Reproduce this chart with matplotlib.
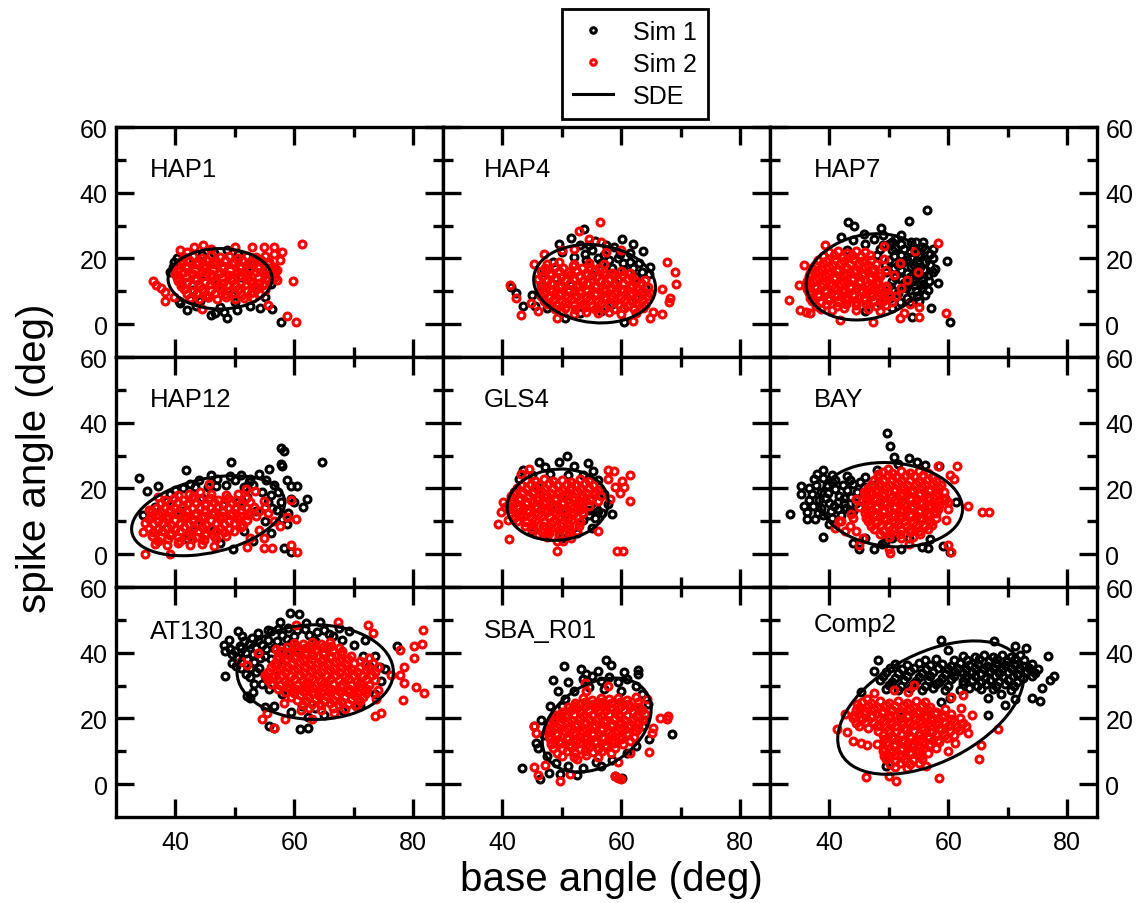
import matplotlib
matplotlib.use("Agg")
import matplotlib.pyplot as plt
import numpy as np
from matplotlib.patches import Ellipse

plt.rcParams["font.family"] = ["Liberation Sans", "DejaVu Sans"]

# ---------------------------------------------------------------------------
# Data (base angle, spike angle) in degrees.
# *_B lists hold the extra points that fill the dense cores of each cloud.
# ---------------------------------------------------------------------------

PANELS = ["HAP1", "HAP4", "HAP7", "HAP12", "GLS4", "BAY", "AT130", "SBA_R01", "Comp2"]

HAP1_SIM1 = [(39.1,15.8),(40.3,20.0),(40.6,6.9),(40.8,6.4),(41.9,4.3),(44.2,6.9),(45.9,2.8),(46.7,3.3),(48.6,2.0),(48.1,3.8),(50.3,4.3),(52.6,5.4),(54.2,4.8),(56.3,4.6),(57.7,0.6),(48.6,22.5),(39.5,17.5),(42.0,19.5),(44.5,21.0),(46.5,21.6),(50.5,21.2),(53.0,20.1),(55.5,17.2),(56.0,12.1),(55.0,8.2),(43.0,10.3),(45.0,15.1),(47.0,12.2),(49.5,9.1),(51.0,14.3),(53.0,11.2),(42.5,7.6),(45.5,8.4),(50.0,6.6),(52.0,17.4),(48.0,17.1),(41.0,12.6),(43.5,5.6),(47.5,5.1),(39.8,18.8)]
HAP1_SIM2 = [(61.3,24.5),(58.8,2.6),(60.2,0.8),(59.7,13.2),(36.3,13.2),(36.8,12.0),(37.5,11.0),(38.3,9.9),(38.3,7.1),(39.7,8.4),(40.8,22.5),(43.1,23.5),(44.7,24.2),(52.9,23.5),(54.9,23.4),(56.6,23.6),(58.0,22.0),(57.1,16.5),(57.1,13.5),(55.5,5.8),(44.5,4.6),(57.5,19.5),(56.5,21.5),(46.0,23.0),(42.0,22.1),(50.0,23.4),
             (41.5,20.3),(43.0,20.8),(44.5,20.2),(46.0,20.9),(47.5,20.4),(49.0,20.7),(50.5,20.1),(52.0,20.8),(53.5,20.3),(55.0,20.6),
             (40.5,18.1),(42.0,17.7),(43.5,18.4),(45.0,17.9),(46.5,18.3),(48.0,17.6),(49.5,18.2),(51.0,17.8),(52.5,18.5),(54.0,17.7),(55.5,18.2),(56.5,17.5),
             (40.0,15.4),(41.5,15.9),(43.0,15.2),(44.5,15.8),(46.0,15.3),(47.5,15.7),(49.0,15.1),(50.5,15.9),(52.0,15.4),(53.5,15.8),(55.0,15.2),(56.5,15.6),
             (40.5,13.1),(42.0,12.7),(43.5,13.3),(45.0,12.8),(46.5,13.2),(48.0,12.6),(49.5,13.4),(51.0,12.9),(52.5,13.1),(54.0,12.6),(55.5,13.3),
             (41.5,10.6),(43.0,10.2),(44.5,10.8),(46.0,10.3),(47.5,10.7),(49.0,10.1),(50.5,10.6),(52.0,10.2),(53.5,10.8),(55.0,10.4),
             (42.5,8.1),(44.0,7.7),(45.5,8.3),(47.0,7.8),(48.5,8.2),(50.0,7.6),(51.5,8.1),(53.0,7.9)]
HAP1_SIM2_B = [(41.0,19.1),(42.3,19.5),(43.8,19.0),(45.2,19.6),(46.8,19.2),(48.3,19.5),(49.8,19.0),(51.2,19.6),(52.8,19.1),(54.3,19.4),(55.8,19.0),
               (40.3,16.6),(41.8,17.0),(43.2,16.5),(44.8,17.1),(46.3,16.7),(47.8,17.0),(49.2,16.5),(50.8,17.1),(52.3,16.6),(53.8,17.0),(55.2,16.5),(56.8,16.9),
               (40.2,14.1),(41.8,14.5),(43.3,14.0),(44.7,14.6),(46.2,14.2),(47.8,14.5),(49.3,14.0),(50.7,14.6),(52.2,14.1),(53.8,14.5),(55.3,14.0),(56.7,14.4),
               (41.0,11.6),(42.7,12.0),(44.2,11.5),(45.8,12.1),(47.3,11.7),(48.7,12.0),(50.2,11.5),(51.8,12.1),(53.3,11.6),(54.8,12.0),
               (42.0,9.1),(43.7,9.5),(45.2,9.0),(46.7,9.6),(48.3,9.2),(49.8,9.5),(51.2,9.0),(52.7,9.5),(54.2,9.1)]

HAP4_SIM1 = [(53.7,29.1),(51.6,26.3),(60.1,25.9),(58.7,23.5),(63.6,22.3),(61.5,21.8),(64.8,17.5),(64.6,15.3),(41.5,11.4),(42.2,9.5),(43.5,5.4),(45.4,5.4),(45.0,8.9),(50.5,2.0),(60.4,0.6),(55.6,25.3),(53.0,24.0),(55.0,22.5),(57.0,21.0),(59.5,20.0),(61.5,19.0),(63.0,18.5),(56.5,18.5),(58.5,17.0),(60.5,16.5),(62.5,14.5),(52.0,20.5),(50.0,22.0),(48.5,19.0),(54.0,19.5),(47.0,16.0),(49.0,14.0),(51.5,12.0),(47.5,5.0),(53.0,3.5),(56.5,4.0),(58.5,6.0),(62.5,8.0),(64.0,11.0),(49.5,24.5),(57.5,24.0),(62.0,24.5),(46.5,12.0),(55.0,15.0),(59.0,12.5),
             (53.8,21.3),(56.0,20.0),(58.0,19.5),(60.2,18.5),(62.0,17.0),(63.5,16.0),(59.8,21.5),(54.5,24.0)]
HAP4_SIM2 = [(56.4,31.1),(52.8,28.3),(41.2,11.9),(42.3,7.9),(43.2,2.8),(45.3,18.2),(47.0,21.5),(67.6,19.0),(69.0,16.0),(69.2,12.2),(66.9,10.7),(68.2,7.9),(68.0,6.8),(66.9,3.0),(49.1,1.8),(61.9,1.1),(64.8,1.8),(65.3,3.6),(56.6,25.1),(54.5,26.0),(50.0,22.5),(52.0,23.0),(46.0,4.0),(44.8,6.5),(57.5,22.0),(60.0,22.5),
             (47.5,18.4),(49.5,18.9),(52.0,18.2),(54.5,18.7),(57.0,18.3),
             (46.5,16.1),(48.0,15.7),(49.5,16.3),(51.0,15.8),(52.5,16.2),(54.0,15.6),(55.5,16.4),(57.0,15.9),(58.5,15.5),(60.0,16.2),(61.5,15.7),
             (46.0,13.6),(47.5,13.2),(49.0,13.8),(50.5,13.3),(52.0,13.7),(53.5,13.1),(55.0,13.6),(56.5,13.2),(58.0,13.8),(59.5,13.4),(61.0,13.7),(62.5,13.1),(64.0,13.5),
             (46.5,11.1),(48.0,10.7),(49.5,11.3),(51.0,10.8),(52.5,11.2),(54.0,10.6),(55.5,11.4),(57.0,10.9),(58.5,11.1),(60.0,10.6),(61.5,11.3),(63.0,10.8),(64.5,11.2),
             (46.5,8.6),(48.0,8.2),(49.5,8.8),(51.0,8.3),(52.5,8.7),(54.0,8.1),(55.5,8.9),(57.0,8.4),(58.5,8.6),(60.0,8.1),(61.5,8.8),(63.0,8.3),(64.5,8.7),
             (47.5,6.1),(49.0,5.7),(50.5,6.3),(52.0,5.8),(53.5,6.2),(55.0,5.6),(56.5,6.4),(58.0,5.9),(59.5,6.1),(61.0,5.6),(62.5,6.3),(64.0,5.8),
             (50.0,3.6),(52.0,3.2),(54.0,3.8),(56.0,3.3),(58.0,3.7),(60.0,3.1),(62.5,3.5)]
HAP4_SIM2_B = [(47.2,17.1),(48.8,17.5),(50.2,17.0),(51.8,17.6),(53.3,17.2),(54.8,17.5),(56.2,17.0),
               (46.7,14.6),(48.2,15.0),(49.8,14.5),(51.3,15.1),(52.8,14.7),(54.2,15.0),(55.8,14.5),(57.3,15.1),(58.8,14.6),(60.2,15.0),(61.8,14.5),
               (46.7,12.1),(48.2,12.5),(49.8,12.0),(51.3,12.6),(52.7,12.2),(54.3,12.5),(55.8,12.0),(57.2,12.6),(58.7,12.1),(60.3,12.5),(61.8,12.0),(63.3,12.4),
               (46.8,9.6),(48.3,10.0),(49.8,9.5),(51.2,10.1),(52.8,9.7),(54.3,10.0),(55.8,9.5),(57.3,10.1),(58.7,9.6),(60.2,10.0),(61.8,9.5),(63.3,9.9),(64.8,9.6),
               (47.0,7.1),(48.5,7.5),(50.0,7.0),(51.5,7.6),(53.0,7.2),(54.5,7.5),(56.0,7.0),(57.5,7.6),(59.0,7.1),(60.5,7.5),(62.0,7.0),(63.5,7.4),
               (48.8,4.6),(50.5,5.0),(52.2,4.5),(53.8,5.1),(55.5,4.7),(57.2,5.0),(58.8,4.5),(60.5,5.0),(62.2,4.6),(63.7,4.9)]

HAP7_SIM1 = [(56.4,34.6),(43.2,31.1),(44.2,29.9),(48.6,29.3),(53.4,31.3),(41.9,26.6),(45.8,27.5),(55.8,25.1),(57.0,21.2),(59.8,19.2),(57.4,15.8),(58.3,12.4),(57.1,4.8),(53.9,2.1),(60.2,0.6),(52.0,27.1),(53.7,25.1),(54.3,18.0),(53.0,15.5),(49.0,24.0),(50.5,22.5),(52.0,24.5),(53.5,22.0),(55.0,21.5),(56.0,19.0),(50.0,19.5),(51.5,18.0),(53.0,19.5),(54.5,16.0),(56.0,16.5),(49.5,16.0),(51.0,14.5),(52.5,12.5),(54.0,13.0),(55.5,13.5),(50.0,11.5),(51.5,9.5),(53.0,8.0),(54.5,10.0),(48.0,21.0),(47.5,26.0),(46.0,24.5),(49.0,27.0),(51.0,26.0),(54.5,25.0),(56.0,23.0),(57.5,23.0),(56.5,10.5),(55.0,7.0),(48.5,6.5),(46.0,4.0),(50.5,5.0),(44.0,25.5),(43.0,22.5),(52.0,21.0),(55.0,18.5),(57.0,18.0),(53.5,10.5),(52.0,16.5),(55.5,11.0),(50.5,25.0),(55.5,23.5)]
HAP7_SIM1_B = [(48.5,22.8),(50.0,24.3),(51.0,23.3),(52.5,22.8),(54.0,23.5),(55.3,20.3),(53.8,20.5),(52.3,19.0),(50.8,20.8),(49.3,18.0),(50.8,17.0),(53.8,17.3),(55.3,17.5),(56.5,15.0),(55.0,15.0),(53.5,14.3),(52.0,13.8),(50.5,13.0),(51.3,11.8),(52.8,11.0),(54.3,11.8),(55.8,12.3),(56.8,13.0),(50.2,8.0),(51.8,6.8),(53.5,6.8),(54.8,8.5),(56.0,9.0),(57.5,20.0),(57.8,16.8)]
HAP7_SIM2 = [(33.2,7.4),(35.0,4.3),(36.0,3.6),(36.8,3.4),(35.8,18.0),(34.8,11.9),(39.3,24.2),(41.8,1.3),(47.4,0.6),(51.9,1.8),(55.1,2.1),(55.1,5.3),(58.2,24.8),(59.6,3.3),(54.9,15.8),(54.4,22.2),(49.2,23.8),(49.2,19.8),(49.5,16.5),(50.9,15.0),(51.8,18.5),(52.1,11.0),(51.2,8.5),(53.0,13.5),(53.5,6.0),(52.5,3.5),
             (40.0,22.1),(41.5,22.4),(43.0,21.8),(44.5,22.3),(46.0,21.9),
             (38.0,19.6),(39.5,19.2),(41.0,19.8),(42.5,19.3),(44.0,19.7),(45.5,19.1),(47.0,19.6),
             (37.0,17.1),(38.5,16.7),(40.0,17.3),(41.5,16.8),(43.0,17.2),(44.5,16.6),(46.0,17.4),(47.5,16.9),
             (36.5,14.6),(38.0,14.2),(39.5,14.8),(41.0,14.3),(42.5,14.7),(44.0,14.1),(45.5,14.9),(47.0,14.4),(48.5,14.6),
             (36.0,12.1),(37.5,11.7),(39.0,12.3),(40.5,11.8),(42.0,12.2),(43.5,11.6),(45.0,12.4),(46.5,11.9),(48.0,12.1),(49.5,11.6),
             (36.5,9.6),(38.0,9.2),(39.5,9.8),(41.0,9.3),(42.5,9.7),(44.0,9.1),(45.5,9.9),(47.0,9.4),(48.5,9.6),(50.0,9.1),
             (37.0,7.1),(38.5,6.7),(40.0,7.3),(41.5,6.8),(43.0,7.2),(44.5,6.6),(46.0,7.4),(47.5,6.9),(49.0,7.1),(50.5,6.6),
             (38.5,4.6),(40.5,4.2),(42.5,4.8),(44.5,4.3),(46.5,4.7),(48.5,4.1)]
HAP7_SIM2_B = [(39.0,20.6),(40.7,21.0),(42.2,20.5),(43.8,21.1),(45.3,20.7),(46.8,21.0),
               (37.5,18.1),(39.0,18.5),(40.5,18.0),(42.0,18.6),(43.5,18.2),(45.0,18.5),(46.5,18.0),(47.8,18.4),
               (36.8,15.6),(38.2,16.0),(39.7,15.5),(41.2,16.1),(42.8,15.7),(44.2,16.0),(45.8,15.5),(47.2,16.1),(48.5,15.7),
               (36.2,13.1),(37.8,13.5),(39.2,13.0),(40.8,13.6),(42.2,13.2),(43.8,13.5),(45.2,13.0),(46.8,13.6),(48.2,13.1),
               (36.2,10.6),(37.7,11.0),(39.2,10.5),(40.8,11.1),(42.3,10.7),(43.7,11.0),(45.2,10.5),(46.8,11.1),(48.3,10.6),(49.7,11.0),
               (36.8,8.1),(38.2,8.5),(39.7,8.0),(41.2,8.6),(42.8,8.2),(44.2,8.5),(45.8,8.0),(47.2,8.6),(48.8,8.1),(50.2,8.5),
               (37.8,5.6),(39.5,6.0),(41.2,5.5),(42.8,6.1),(44.5,5.7),(46.2,6.0),(47.8,5.5),(49.5,5.9)]

HAP12_SIM1 = [(64.7,28.1),(57.7,32.3),(58.2,31.3),(57.7,27.5),(58.0,26.7),(49.4,27.9),(41.8,25.7),(33.8,23.3),(35.2,19.3),(37.0,20.6),(46.0,24.0),(54.0,24.4),(55.7,25.9),(58.8,22.7),(60.5,20.8),(59.4,20.8),(62.2,16.8),(61.4,14.3),(59.4,16.8),(58.8,9.2),(58.2,1.9),(59.5,0.7),(49.7,1.7),(34.6,11.8),(38.6,16.3),(40.0,19.5),(42.5,21.5),(44.0,22.5),(45.5,20.5),(47.0,23.0),(48.5,21.0),(50.0,22.5),(51.5,20.5),(53.0,21.0),(52.0,17.5),(54.5,19.0),(55.5,16.0),(56.5,21.0),(57.0,13.5),(50.5,16.0),(48.0,15.0),(53.5,13.0),(55.0,10.0),(51.5,7.0),(46.5,7.5),(43.5,9.0),(38.5,8.0),(41.0,13.0),(36.5,14.5),(44.5,17.0),(42.0,4.5),(47.5,3.5),(53.0,4.0),(56.0,6.5),(60.0,16.0),(59.0,12.5),(51.0,24.0),(52.5,23.0),
              (39.0,18.3),(41.2,20.0),(43.2,20.3),(46.8,20.8),(49.2,23.8),(52.3,22.0),(55.2,22.5),(57.3,19.0),(56.0,18.0),(57.8,16.0),(56.3,14.0),(58.0,10.8)]
HAP12_SIM2 = [(34.9,0.2),(39.1,0.2),(45.6,21.4),(51.8,19.8),(53.3,19.3),(54.9,16.3),(59.4,16.5),(59.5,2.7),(60.5,0.7),(60.2,10.8),(58.8,11.2),(52.1,2.2),(54.9,2.0),(56.3,2.0),(54.9,4.8),(34.6,6.7),(34.9,9.4),(35.6,13.3),(37.1,17.3),(42.2,18.3),(44.2,18.8),(55.5,12.5),(56.5,10.0),(57.5,8.5),(54.0,7.5),(52.5,5.0),(55.0,14.5),
              (40.5,18.1),(43.0,17.8),(46.0,18.3),(48.5,17.9),(50.5,18.2),
              (37.5,15.6),(39.0,15.2),(40.5,15.8),(42.0,15.3),(43.5,15.7),(45.0,15.1),(46.5,15.9),(48.0,15.4),(49.5,15.6),(51.0,15.1),(52.5,15.8),
              (36.0,13.1),(37.5,12.7),(39.0,13.3),(40.5,12.8),(42.0,13.2),(43.5,12.6),(45.0,13.4),(46.5,12.9),(48.0,13.1),(49.5,12.6),(51.0,13.3),(52.5,12.8),(54.0,13.2),
              (35.5,10.6),(37.0,10.2),(38.5,10.8),(40.0,10.3),(41.5,10.7),(43.0,10.1),(44.5,10.9),(46.0,10.4),(47.5,10.6),(49.0,10.1),(50.5,10.8),(52.0,10.3),
              (35.5,8.1),(37.0,7.7),(38.5,8.3),(40.0,7.8),(41.5,8.2),(43.0,7.6),(44.5,8.4),(46.0,7.9),(47.5,8.1),(49.0,7.6),(51.0,8.3),
              (36.0,5.6),(37.5,5.2),(39.0,5.8),(40.5,5.3),(42.0,5.7),(43.5,5.1),(45.0,5.9),(46.5,5.4),(48.5,5.6),
              (36.5,3.1),(38.5,2.7),(40.5,3.3),(42.5,2.8),(44.5,3.2),(46.5,2.6)]
HAP12_SIM2_B = [(38.2,16.6),(39.8,17.0),(41.2,16.5),(42.8,17.1),(44.2,16.7),(45.8,17.0),(47.2,16.5),(48.8,17.1),(50.2,16.6),(51.8,17.0),
                (36.8,14.1),(38.2,14.5),(39.8,14.0),(41.2,14.6),(42.8,14.2),(44.2,14.5),(45.8,14.0),(47.2,14.6),(48.8,14.1),(50.2,14.5),(51.8,14.0),(53.2,14.4),
                (35.8,11.6),(37.2,12.0),(38.8,11.5),(40.2,12.1),(41.8,11.7),(43.2,12.0),(44.8,11.5),(46.2,12.1),(47.8,11.6),(49.2,12.0),(50.8,11.5),(52.2,11.9),(53.5,11.6),
                (36.2,9.1),(37.8,9.5),(39.2,9.0),(40.8,9.6),(42.2,9.2),(43.8,9.5),(45.2,9.0),(46.8,9.6),(48.2,9.1),(49.8,9.5),(51.3,9.0),
                (36.2,6.6),(37.8,7.0),(39.2,6.5),(40.8,7.1),(42.2,6.7),(43.8,7.0),(45.2,6.5),(46.8,7.1),(48.2,6.6),(49.8,7.0),
                (37.0,4.1),(38.8,4.5),(40.8,4.0),(42.8,4.6),(44.8,4.2),(46.8,4.5)]

GLS4_SIM1 = [(50.9,29.8),(46.1,27.9),(49.5,27.9),(52.1,26.9),(54.4,27.7),(55.3,25.4),(43.5,25.7),(47.2,26.5),(57.0,18.3),(57.8,15.3),(58.5,12.3),(42.7,22.9),(44.9,7.2),(56.8,12.5),(54.6,13.5),(55.8,14.0),(45.0,24.0),(48.0,24.5),(51.0,24.0),(53.5,24.0),(56.0,22.5),(55.5,19.0),(54.5,12.0),(55.5,11.0),(56.0,13.0),(53.5,10.5),(42.0,19.0),(43.0,12.0),(45.0,8.5),(47.5,6.0),(50.0,5.0),(52.5,6.5),(55.0,8.0),(48.0,15.0),(51.0,18.0),(46.0,20.0),(50.5,12.0),(53.0,16.0)]
GLS4_SIM2 = [(57.7,25.7),(58.8,25.2),(61.5,24.1),(60.1,22.4),(60.5,20.3),(59.0,20.3),(59.8,18.6),(61.5,16.3),(57.8,23.0),(58.1,16.8),(39.3,9.2),(41.1,4.5),(40.1,15.8),(39.8,12.8),(49.1,1.0),(59.3,1.0),(60.2,1.0),(49.1,3.9),(50.2,3.9),(56.1,7.2),(43.2,24.4),(44.5,26.0),(40.5,14.3),(41.0,10.5),
             (44.0,22.6),(45.5,22.2),(47.0,22.8),(48.5,22.3),(50.0,22.7),(51.5,22.1),(53.0,22.9),(54.5,22.4),
             (42.5,20.1),(44.0,19.7),(45.5,20.3),(47.0,19.8),(48.5,20.2),(50.0,19.6),(51.5,20.4),(53.0,19.9),(54.5,20.1),(56.0,19.6),
             (41.5,17.6),(43.0,17.2),(44.5,17.8),(46.0,17.3),(47.5,17.7),(49.0,17.1),(50.5,17.9),(52.0,17.4),(53.5,17.6),(55.0,17.1),(56.5,17.8),
             (41.0,15.1),(42.5,14.7),(44.0,15.3),(45.5,14.8),(47.0,15.2),(48.5,14.6),(50.0,15.4),(51.5,14.9),(53.0,15.1),(54.5,14.6),
             (41.5,12.6),(43.0,12.2),(44.5,12.8),(46.0,12.3),(47.5,12.7),(49.0,12.1),(50.5,12.9),(52.0,12.4),(53.5,12.6),
             (42.5,10.1),(44.0,9.7),(45.5,10.3),(47.0,9.8),(48.5,10.2),(50.0,9.6),(51.5,10.4),(53.0,9.9),
             (45.0,7.6),(46.5,7.2),(48.0,7.8),(49.5,7.3),(51.0,7.7),(52.5,7.1),
             (47.5,5.1),(49.5,5.4),(51.5,4.9)]
GLS4_SIM2_B = [(43.2,21.1),(44.8,21.5),(46.2,21.0),(47.8,21.6),(49.2,21.2),(50.8,21.5),(52.2,21.0),(53.8,21.6),(55.2,21.1),
               (42.0,18.6),(43.5,19.0),(45.0,18.5),(46.5,19.1),(48.0,18.7),(49.5,19.0),(51.0,18.5),(52.5,19.1),(54.0,18.6),(55.5,19.0),
               (41.2,16.1),(42.8,16.5),(44.2,16.0),(45.8,16.6),(47.2,16.2),(48.8,16.5),(50.2,16.0),(51.8,16.6),(53.2,16.1),(54.8,16.5),(56.0,16.1),
               (41.2,13.6),(42.8,14.0),(44.2,13.5),(45.8,14.1),(47.2,13.7),(48.8,14.0),(50.2,13.5),(51.8,14.1),(53.2,13.6),
               (42.0,11.1),(43.5,11.5),(45.0,11.0),(46.5,11.6),(48.0,11.2),(49.5,11.5),(51.0,11.0),(52.5,11.6),
               (43.8,8.6),(45.2,9.0),(46.8,8.5),(48.2,9.1),(49.8,8.7),(51.2,9.0),(52.8,8.5),
               (46.0,6.1),(47.8,6.5),(49.5,6.0),(51.2,6.4)]

BAY_SIM1 = [(49.6,37.0),(50.2,33.0),(50.9,29.5),(53.4,29.3),(33.3,12.3),(35.3,20.7),(35.3,18.3),(35.8,14.8),(36.2,10.8),(37.5,10.8),(37.4,22.9),(37.9,24.4),(38.9,25.7),(36.2,12.8),(36.5,16.4),(37.0,18.4),(39.0,5.2),(39.6,20.9),(40.4,22.0),(41.0,22.5),(43.0,23.9),(42.2,20.9),(41.6,17.8),(40.8,14.8),(41.4,13.7),(43.6,17.3),(44.7,18.8),(39.9,9.2),(45.8,20.5),(45.0,1.7),(47.5,1.5),(48.9,3.1),(52.0,1.7),(55.5,2.2),(56.6,2.0),(59.1,2.6),(60.2,0.7),(61.3,15.8),(58.5,26.7),(54.8,28.0),(49.3,3.8),(53.3,4.8),
            (38.5,19.0),(39.5,17.0),(40.0,15.5),(42.5,15.5),(43.0,19.5),(44.0,21.5),(38.5,14.0),(39.0,12.0),(42.0,12.0),(43.5,13.5),(40.5,11.0),(44.5,15.5),(46.5,17.0),(47.5,21.0),(46.0,23.5),(48.0,25.5),(51.5,27.5),(56.0,27.0),(57.0,4.5),(50.5,5.0),(46.0,5.0),(44.0,3.5)]
BAY_SIM1_B = [(36.5,20.0),(37.8,21.2),(38.2,16.5),(39.8,18.5),(41.0,19.8),(42.5,17.0),(41.5,16.0),(40.2,13.0),(42.8,14.0),(44.0,13.0),(43.5,22.5),(45.2,22.0),(38.0,12.5),(37.2,14.8),(39.0,23.2),(40.5,24.0),(45.5,16.5)]
BAY_SIM2 = [(63.3,14.8),(65.7,12.8),(66.9,12.8),(61.5,26.9),(60.2,24.1),(60.9,23.0),(59.9,16.0),(59.9,13.7),(59.6,10.3),(59.9,2.7),(60.4,0.7),(50.2,0.5),(50.0,1.6),(45.0,2.7),(45.7,4.9),(42.7,6.9),(41.6,10.2),(43.6,12.3),(44.4,16.8),(45.8,19.0),(53.3,3.0),(58.2,26.7),(48.1,24.4),(49.8,25.9),(42.0,10.0),(43.5,8.5),(41.0,8.0),(44.0,11.0),(45.0,14.5),(44.5,7.0),
            (49.0,25.1),(50.5,24.7),(52.0,25.3),(53.5,24.8),(55.0,25.2),(56.5,24.6),
            (47.5,22.6),(49.0,22.2),(50.5,22.8),(52.0,22.3),(53.5,22.7),(55.0,22.1),(56.5,22.9),(58.0,22.4),
            (46.5,20.1),(48.0,19.7),(49.5,20.3),(51.0,19.8),(52.5,20.2),(54.0,19.6),(55.5,20.4),(57.0,19.9),(58.5,20.1),
            (46.0,17.6),(47.5,17.2),(49.0,17.8),(50.5,17.3),(52.0,17.7),(53.5,17.1),(55.0,17.9),(56.5,17.4),(58.0,17.6),(59.5,17.1),
            (46.5,15.1),(48.0,14.7),(49.5,15.3),(51.0,14.8),(52.5,15.2),(54.0,14.6),(55.5,15.4),(57.0,14.9),(58.5,15.1),
            (46.0,12.6),(47.5,12.2),(49.0,12.8),(50.5,12.3),(52.0,12.7),(53.5,12.1),(55.0,12.9),(56.5,12.4),(58.0,12.6),
            (46.5,10.1),(48.0,9.7),(49.5,10.3),(51.0,9.8),(52.5,10.2),(54.0,9.6),(55.5,10.4),(57.0,9.9),
            (47.5,7.6),(49.0,7.2),(50.5,7.8),(52.0,7.3),(53.5,7.7),(55.0,7.1),(56.5,7.8),
            (50.0,5.1),(52.0,4.8),(54.0,5.3)]
BAY_SIM2_B = [(48.2,23.6),(49.8,24.0),(51.2,23.5),(52.8,24.1),(54.2,23.7),(55.8,24.0),(57.2,23.5),
              (47.0,21.1),(48.5,21.5),(50.0,21.0),(51.5,21.6),(53.0,21.2),(54.5,21.5),(56.0,21.0),(57.5,21.6),(58.8,21.1),
              (46.2,18.6),(47.8,19.0),(49.2,18.5),(50.8,19.1),(52.2,18.7),(53.8,19.0),(55.2,18.5),(56.8,19.1),(58.2,18.6),(59.3,19.0),
              (46.2,16.1),(47.8,16.5),(49.2,16.0),(50.8,16.6),(52.2,16.2),(53.8,16.5),(55.2,16.0),(56.8,16.6),(58.2,16.1),(59.5,16.5),
              (46.2,13.6),(47.8,14.0),(49.2,13.5),(50.8,14.1),(52.2,13.7),(53.8,14.0),(55.2,13.5),(56.8,14.1),(58.2,13.6),
              (46.2,11.1),(47.8,11.5),(49.2,11.0),(50.8,11.6),(52.2,11.2),(53.8,11.5),(55.2,11.0),(56.8,11.6),(58.0,11.1),
              (47.0,8.6),(48.5,9.0),(50.0,8.5),(51.5,9.1),(53.0,8.7),(54.5,9.0),(56.0,8.5),(57.2,9.0),
              (48.5,6.1),(50.2,6.5),(51.8,6.0),(53.5,6.6),(55.2,6.2)]

AT130_SIM1 = [(59.3,52.0),(60.8,51.8),(48.1,42.4),(48.4,40.4),(48.4,32.8),(52.1,26.8),(52.5,26.3),(55.7,17.7),(56.5,17.2),(61.0,16.7),(62.3,17.0),(64.3,49.5),(77.3,41.9),(55.6,47.0),(53.9,46.0),(52.8,44.5),(69.2,46.5),(71.8,43.9),(73.5,38.9),(74.4,35.8),(75.2,35.0),(56.6,23.7),(55.0,23.5),(55.7,29.0),(61.3,23.7),(62.3,20.4),(63.4,23.1),
              (50.0,40.5),(51.5,43.5),(52.0,38.0),(53.5,41.5),(54.0,35.5),(55.5,44.0),(55.0,39.0),(56.5,41.5),(57.0,36.5),(58.0,45.5),(58.5,39.5),(59.5,43.0),(60.5,47.0),(61.0,41.0),(62.5,45.5),(63.5,43.5),(65.0,47.0),(66.5,45.0),(68.0,44.0),(67.5,47.5),(70.0,42.5),(71.5,39.0),(72.5,36.0),(51.0,35.5),(49.5,37.0),(52.5,32.5),(54.5,30.5),(56.5,33.0),(53.0,28.0),(58.0,27.5),(59.5,22.0),(65.0,21.0),(68.0,22.5),(71.0,24.0),(73.5,27.5),(74.5,31.5),(49.0,44.0),(50.5,46.5),(57.5,49.5),(62.0,49.0),
              (51.0,41.5),(53.0,39.5),(50.5,38.5),(54.5,42.5),(57.0,43.5),(56.0,46.5),(59.0,47.5),(52.5,35.5),(55.0,33.0)]
AT130_SIM1_B = [(49.2,41.2),(50.8,42.2),(52.3,42.8),(51.8,40.0),(53.2,37.2),(54.2,38.3),(53.8,44.0),(55.2,41.0),(56.0,38.2),(57.8,41.8),(58.8,44.2),(57.2,47.2),(60.0,45.2),(61.8,47.3),(63.8,46.3),(65.8,45.8),(50.2,36.0),(51.8,33.5),(53.5,34.0),(53.2,30.5),(49.5,39.5),(51.2,45.0)]
AT130_SIM2 = [(67.4,49.5),(72.3,48.5),(73.2,46.0),(81.6,47.0),(80.1,41.9),(81.4,42.7),(77.7,40.7),(80.2,38.4),(78.4,35.7),(77.7,33.3),(78.4,30.8),(80.5,29.6),(81.8,27.6),(78.3,25.6),(76.2,33.3),(73.5,31.8),(74.0,28.8),(73.8,25.8),(73.5,20.7),(74.5,21.7),(54.6,19.7),(55.4,21.7),(56.6,17.2),(58.5,19.7),(58.2,24.6),(52.1,36.4),(53.8,39.9),(55.4,32.6),(56.9,41.1),(60.2,48.5),(61.1,22.7),(62.9,19.7),(66.7,21.7),(70.4,23.7),(51.0,37.5),
              (60.0,43.1),(61.5,42.7),(63.0,43.3),(64.5,42.8),(66.0,43.2),
              (57.5,40.6),(59.0,40.2),(60.5,40.8),(62.0,40.3),(63.5,40.7),(65.0,40.1),(66.5,40.9),(68.0,40.4),
              (57.0,38.1),(58.5,37.7),(60.0,38.3),(61.5,37.8),(63.0,38.2),(64.5,37.6),(66.0,38.4),(67.5,37.9),(69.0,38.1),(71.0,37.6),(72.5,38.3),
              (56.0,35.6),(57.5,35.2),(59.0,35.8),(60.5,35.3),(62.0,35.7),(63.5,35.1),(65.0,35.9),(66.5,35.4),(68.0,35.6),(69.5,35.1),(71.0,35.8),(72.5,35.3),(74.0,35.7),
              (55.0,33.1),(56.5,32.7),(58.0,33.3),(59.5,32.8),(61.0,33.2),(62.5,32.6),(64.0,33.4),(65.5,32.9),(67.0,33.1),(68.5,32.6),(70.0,33.3),(71.5,32.8),(73.0,33.2),
              (56.0,30.6),(57.5,30.2),(59.0,30.8),(60.5,30.3),(62.0,30.7),(63.5,30.1),(65.0,30.9),(66.5,30.4),(68.0,30.6),(69.5,30.1),(71.0,30.8),(72.5,30.3),
              (58.5,28.1),(60.0,27.7),(61.5,28.3),(63.0,27.8),(64.5,28.2),(66.0,27.6),(67.5,28.4),(69.0,27.9),(70.5,28.1),(72.0,27.6),
              (60.5,25.6),(62.0,25.2),(63.5,25.8),(65.0,25.3),(66.5,25.7),(68.0,25.1),(69.5,25.9),(71.0,25.4),
              (62.5,23.1),(64.5,22.7),(66.5,23.3),(68.5,22.8)]
AT130_SIM2_B = [(58.8,41.6),(60.2,42.0),(61.8,41.5),(63.2,42.1),(64.8,41.7),(66.2,42.0),(67.5,41.5),
                (57.2,39.1),(58.8,39.5),(60.2,39.0),(61.8,39.6),(63.2,39.2),(64.8,39.5),(66.2,39.0),(67.8,39.6),(69.5,39.1),
                (56.5,36.6),(58.0,37.0),(59.5,36.5),(61.0,37.1),(62.5,36.7),(64.0,37.0),(65.5,36.5),(67.0,37.1),(68.5,36.6),(70.0,37.0),(71.8,36.5),(73.2,36.9),
                (55.5,34.1),(57.0,34.5),(58.5,34.0),(60.0,34.6),(61.5,34.2),(63.0,34.5),(64.5,34.0),(66.0,34.6),(67.5,34.1),(69.0,34.5),(70.5,34.0),(72.0,34.6),(73.5,34.2),
                (55.5,31.6),(57.0,32.0),(58.5,31.5),(60.0,32.1),(61.5,31.7),(63.0,32.0),(64.5,31.5),(66.0,32.1),(67.5,31.6),(69.0,32.0),(70.5,31.5),(72.0,31.9),
                (57.2,29.1),(58.8,29.5),(60.2,29.0),(61.8,29.6),(63.2,29.2),(64.8,29.5),(66.2,29.0),(67.8,29.6),(69.2,29.1),(70.8,29.5),(72.2,29.0),
                (59.5,26.6),(61.0,27.0),(62.5,26.5),(64.0,27.1),(65.5,26.7),(67.0,27.0),(68.5,26.5),(70.0,27.1),(71.5,26.6),
                (61.5,24.1),(63.0,24.5),(64.5,24.0),(66.0,24.6),(67.5,24.2),(69.0,24.5),(70.5,24.0)]

SBA_SIM1 = [(57.4,37.7),(58.3,36.4),(50.4,36.1),(53.2,35.1),(62.8,34.6),(62.8,33.6),(48.5,31.6),(49.4,28.3),(48.0,23.9),(50.0,23.7),(45.3,17.7),(45.7,12.6),(45.9,10.9),(43.3,4.8),(46.3,1.5),(47.8,3.5),(49.7,3.2),(52.6,2.7),(55.7,6.6),(58.9,2.5),(60.1,2.0),(68.5,15.2),(64.6,13.6),(63.7,17.7),(51.0,31.0),(53.5,32.0),(55.0,33.0),(56.5,31.5),(58.0,32.5),(59.5,31.0),(61.0,32.0),(62.5,30.0),(52.0,28.5),(54.5,29.5),(57.0,29.0),(60.0,28.5),(63.5,27.5),(64.5,24.5),(50.5,26.0),(48.5,20.5),(47.0,15.0),(47.5,8.5),(49.0,6.5),(51.0,5.5),(53.5,5.0),(56.5,5.5),(58.5,7.5),(61.0,9.5),(62.5,11.5),(64.0,19.5),(63.0,22.5),(46.5,19.5),(54.0,33.5),(56.0,34.5),(60.5,34.0)]
SBA_SIM2 = [(45.3,17.7),(45.7,15.5),(45.3,5.2),(46.0,2.7),(47.1,5.8),(49.6,1.0),(51.3,3.0),(52.5,7.6),(59.0,2.6),(59.9,1.6),(59.4,2.0),(59.4,6.6),(61.5,9.4),(64.6,9.8),(65.1,15.5),(65.4,17.2),(66.5,20.2),(67.8,20.7),(67.6,19.8),(64.3,25.8),(57.8,29.8),(53.9,30.8),(54.0,28.5),(52.2,23.7),(49.6,21.2),
            (53.5,26.1),(55.0,25.7),(56.5,26.3),(58.0,25.8),(59.5,26.2),(61.0,25.6),(62.5,26.4),
            (51.0,23.6),(52.5,23.2),(54.0,23.8),(55.5,23.3),(57.0,23.7),(58.5,23.1),(60.0,23.9),(61.5,23.4),(63.0,23.6),
            (49.0,21.1),(50.5,20.7),(52.0,21.3),(53.5,20.8),(55.0,21.2),(56.5,20.6),(58.0,21.4),(59.5,20.9),(61.0,21.1),(62.5,20.6),(64.0,21.3),
            (48.0,18.6),(49.5,18.2),(51.0,18.8),(52.5,18.3),(54.0,18.7),(55.5,18.1),(57.0,18.9),(58.5,18.4),(60.0,18.6),(61.5,18.1),(63.0,18.8),
            (47.5,16.1),(49.0,15.7),(50.5,16.3),(52.0,15.8),(53.5,16.2),(55.0,15.6),(56.5,16.4),(58.0,15.9),(59.5,16.1),(61.0,15.6),(62.5,16.3),
            (48.0,13.6),(49.5,13.2),(51.0,13.8),(52.5,13.3),(54.0,13.7),(55.5,13.1),(57.0,13.9),(58.5,13.4),(60.0,13.6),(61.5,13.1),
            (48.5,11.1),(50.0,10.7),(51.5,11.3),(53.0,10.8),(54.5,11.2),(56.0,10.6),(57.5,11.4),(59.0,10.9),
            (50.0,8.6),(52.0,8.2),(54.0,8.8),(56.0,8.3)]
SBA_SIM2_B = [(52.2,24.6),(53.8,25.0),(55.2,24.5),(56.8,25.1),(58.2,24.7),(59.8,25.0),(61.2,24.5),(62.8,25.0),
              (50.0,22.1),(51.5,22.5),(53.0,22.0),(54.5,22.6),(56.0,22.2),(57.5,22.5),(59.0,22.0),(60.5,22.6),(62.0,22.1),(63.5,22.5),
              (48.5,19.6),(50.0,20.0),(51.5,19.5),(53.0,20.1),(54.5,19.7),(56.0,20.0),(57.5,19.5),(59.0,20.1),(60.5,19.6),(62.0,20.0),(63.5,19.5),
              (47.8,17.1),(49.2,17.5),(50.8,17.0),(52.2,17.6),(53.8,17.2),(55.2,17.5),(56.8,17.0),(58.2,17.6),(59.8,17.1),(61.2,17.5),(62.8,17.0),
              (47.8,14.6),(49.2,15.0),(50.8,14.5),(52.2,15.1),(53.8,14.7),(55.2,15.0),(56.8,14.5),(58.2,15.1),(59.8,14.6),(61.2,15.0),(62.2,14.5),
              (48.2,12.1),(49.8,12.5),(51.2,12.0),(52.8,12.6),(54.2,12.2),(55.8,12.5),(57.2,12.0),(58.8,12.6),(60.2,12.1),
              (49.2,9.6),(50.8,10.0),(52.2,9.5),(53.8,10.1),(55.2,9.7),(56.8,10.0),(58.2,9.5)]

COMP2_SIM1 = [(58.7,43.9),(67.7,43.7),(73.1,41.4),(71.2,41.9),(76.8,38.9),(77.8,33.0),(77.1,31.8),(75.7,29.3),(74.0,26.3),(75.4,25.3),(71.2,26.0),(69.5,24.2),(68.8,27.3),(66.7,26.3),(66.7,20.9),(48.1,37.9),(47.5,34.3),(45.3,28.0),(60.2,26.3),(58.7,25.0),(62.0,28.8),(60.0,40.8),(61.0,37.9),
              (62.5,39.1),(64.5,38.7),(66.0,39.3),(67.5,38.8),(69.0,39.2),(70.5,38.6),(72.0,39.4),
              (51.0,36.6),(53.0,36.2),(55.0,36.8),(57.0,36.3),(59.0,36.7),(60.5,36.1),(62.0,36.9),(63.5,36.4),(65.0,36.6),(66.5,36.1),(68.0,36.8),(69.5,36.3),(71.0,36.7),(72.5,36.1),(74.0,36.5),
              (49.5,34.1),(51.5,33.7),(53.5,34.3),(55.5,33.8),(57.5,34.2),(59.5,33.6),(61.0,34.4),(62.5,33.9),(64.0,34.1),(65.5,33.6),(67.0,34.3),(68.5,33.8),(70.0,34.2),(71.5,33.6),(73.0,34.4),(74.5,33.9),
              (48.5,31.6),(50.5,31.2),(52.5,31.8),(54.5,31.3),(56.5,31.7),(58.5,31.1),(60.5,31.9),(62.5,31.4),(64.0,31.6),(65.5,31.1),(67.0,31.8),(68.5,31.3),(70.0,31.7),(71.5,31.2),
              (49.5,29.1),(51.5,28.7),(53.5,29.3),(55.5,28.8),(57.5,29.2),(59.5,28.6),(63.5,29.4),(65.5,28.9),(67.5,29.1),(70.5,28.6),
              (50.0,8.5),(49.5,5.5),(53.0,12.0),(56.5,14.0),(52.0,20.5),(58.0,18.5)]
COMP2_SIM1_B = [(56.0,37.8),(58.0,38.2),(63.2,37.7),(65.2,38.1),(66.8,37.6),(68.2,38.0),(69.8,37.5),(71.2,38.1),(72.8,37.7),
                (50.2,35.3),(52.2,35.0),(54.2,35.5),(56.2,35.1),(58.2,35.4),(60.0,34.9),(61.5,35.5),(63.0,35.0),(64.5,35.4),(66.0,34.9),(67.5,35.5),(69.0,35.1),(70.5,35.4),(72.0,34.9),(73.5,35.5),(75.0,35.0),
                (49.0,32.8),(51.0,32.4),(53.0,33.0),(55.0,32.5),(57.0,32.9),(59.0,32.4),(61.0,33.0),(62.8,32.5),(64.5,32.9),(66.2,32.4),(67.8,33.0),(69.2,32.5),(70.8,32.9),(72.5,32.4),(74.0,32.9),
                (50.0,30.3),(52.0,29.9),(54.0,30.5),(56.0,30.0),(58.0,30.4),(60.0,29.9),(62.5,30.5),(64.8,30.0),(66.3,30.4),(68.0,29.9),(69.5,30.5),(71.0,30.0)]
COMP2_SIM2 = [(41.3,16.7),(42.6,21.5),(43.0,15.9),(43.9,13.1),(45.3,12.4),(46.4,11.8),(48.0,12.1),(46.1,2.3),(50.0,2.5),(51.2,1.0),(58.5,1.8),(65.1,7.8),(65.5,11.8),(68.3,16.9),(64.0,21.2),(50.8,28.8),(54.3,30.3),(53.2,28.1),(60.4,26.6),(62.4,27.0),(47.5,27.8),(44.7,24.5),(46.4,26.0),(56.2,5.5),(59.9,10.1),(61.2,12.6),(63.3,15.7),(62.2,23.2),
              (45.5,25.1),(47.0,24.7),(48.5,25.3),(50.0,24.8),(51.5,25.2),(53.0,24.6),(54.5,25.4),(56.0,24.9),
              (44.5,22.6),(46.0,22.2),(47.5,22.8),(49.0,22.3),(50.5,22.7),(52.0,22.1),(53.5,22.9),(55.0,22.4),(56.5,22.6),(58.0,22.1),(59.5,22.8),
              (44.0,20.1),(45.5,19.7),(47.0,20.3),(48.5,19.8),(50.0,20.2),(51.5,19.6),(53.0,20.4),(54.5,19.9),(56.0,20.1),(57.5,19.6),(59.0,20.3),(60.5,19.8),(62.0,20.2),
              (45.0,17.6),(46.5,17.2),(48.0,17.8),(49.5,17.3),(51.0,17.7),(52.5,17.1),(54.0,17.9),(55.5,17.4),(57.0,17.6),(58.5,17.1),(60.0,17.8),(61.5,17.3),(63.0,17.7),
              (49.0,15.1),(50.5,14.7),(52.0,15.3),(53.5,14.8),(55.0,15.2),(56.5,14.6),(58.0,15.4),(59.5,14.9),(61.0,15.1),
              (49.5,12.6),(51.0,12.2),(52.5,12.8),(54.0,12.3),(55.5,12.7),(57.0,12.1),(58.5,12.9),
              (49.0,10.1),(50.5,9.7),(52.0,10.3),(53.5,9.8),(55.0,10.2),(56.5,9.6),
              (49.5,7.6),(51.0,7.2),(52.5,7.8),(54.0,7.3),(55.5,7.7),
              (51.0,5.1),(53.0,4.8)]
COMP2_SIM2_B = [(45.0,23.6),(46.5,24.0),(48.0,23.5),(49.5,24.1),(51.0,23.7),(52.5,24.0),(54.0,23.5),(55.5,24.1),(57.0,23.6),
                (44.2,21.1),(45.8,21.5),(47.2,21.0),(48.8,21.6),(50.2,21.2),(51.8,21.5),(53.2,21.0),(54.8,21.6),(56.2,21.1),(57.8,21.5),(59.2,21.0),(60.5,21.4),
                (44.5,18.6),(46.0,19.0),(47.5,18.5),(49.0,19.1),(50.5,18.7),(52.0,19.0),(53.5,18.5),(55.0,19.1),(56.5,18.6),(58.0,19.0),(59.5,18.5),(61.0,19.1),(62.5,18.6),
                (48.2,16.1),(49.8,16.5),(51.2,16.0),(52.8,16.6),(54.2,16.2),(55.8,16.5),(57.2,16.0),(58.8,16.6),(60.2,16.1),(61.8,16.5),
                (49.2,13.6),(50.8,14.0),(52.2,13.5),(53.8,14.1),(55.2,13.7),(56.8,14.0),(58.2,13.5),(59.8,13.9),
                (49.2,11.1),(50.8,11.5),(52.2,11.0),(53.8,11.6),(55.2,11.2),(56.8,11.5),(58.0,11.0),
                (49.2,8.6),(50.8,9.0),(52.2,8.5),(53.8,9.1),(55.2,8.7),
                (50.2,6.1),(51.8,6.5),(53.5,6.0),(55.0,6.4)]

SIM1 = [HAP1_SIM1, HAP4_SIM1, HAP7_SIM1 + HAP7_SIM1_B, HAP12_SIM1, GLS4_SIM1,
        BAY_SIM1 + BAY_SIM1_B, AT130_SIM1 + AT130_SIM1_B, SBA_SIM1, COMP2_SIM1 + COMP2_SIM1_B]
SIM2 = [HAP1_SIM2 + HAP1_SIM2_B, HAP4_SIM2 + HAP4_SIM2_B, HAP7_SIM2 + HAP7_SIM2_B,
        HAP12_SIM2 + HAP12_SIM2_B, GLS4_SIM2 + GLS4_SIM2_B, BAY_SIM2 + BAY_SIM2_B,
        AT130_SIM2 + AT130_SIM2_B, SBA_SIM2 + SBA_SIM2_B, COMP2_SIM2 + COMP2_SIM2_B]

# SDE ellipses: centre, full axes and rotation (data coordinates)
SDE_CX = [47.5, 55.5, 46.3, 45.5, 49.3, 50.4, 63.5, 55.85, 57.05]
SDE_CY = [13.8, 12.3, 14.4, 11.7, 15.05, 15.05, 34.1, 18.0, 23.3]
SDE_W = [17.5, 24.2, 26.8, 29.0, 21.8, 26.3, 26.3, 29.6, 44.7]
SDE_H = [18.4, 20.1, 19.7, 20.4, 16.9, 23.3, 28.8, 16.7, 25.1]
SDE_ANGLE = [0.0, -72.6, 72.8, 40.2, 82.0, -62.2, 0.0, 72.0, 59.6]

# panel label anchor per column (x) and baseline height
LABEL_X = [35.7, 36.9, 37.3]
LABEL_Y = [45.2, 45.2, 45.2, 45.2, 45.2, 45.2, 44.6, 44.8, 46.5]

# ---------------------------------------------------------------------------
# Figure
# ---------------------------------------------------------------------------

fig = plt.figure(figsize=(11.41, 9.04), dpi=100)
gs = fig.add_gridspec(3, 3, left=0.1017, right=0.9614, top=0.8584, bottom=0.0951,
                      wspace=0, hspace=0)

TICK_FS = 18
handles = None
for i, name in enumerate(PANELS):
    row, col = divmod(i, 3)
    ax = fig.add_subplot(gs[row, col])

    s1 = np.array(SIM1[i])
    s2 = np.array(SIM2[i])
    h1, = ax.plot(s1[:, 0], s1[:, 1], "o", ls="none", mfc="none", mec="black",
                  ms=5.0, mew=2.2, label="Sim 1", zorder=2)
    h2, = ax.plot(s2[:, 0], s2[:, 1], "o", ls="none", mfc="none", mec="#ff0000",
                  ms=5.0, mew=2.2, label="Sim 2", zorder=3)
    ell = Ellipse((SDE_CX[i], SDE_CY[i]), SDE_W[i], SDE_H[i], angle=SDE_ANGLE[i],
                  fill=False, edgecolor="black", linewidth=2.2, zorder=4)
    ax.add_patch(ell)
    h3, = ax.plot([], [], color="black", lw=2.2, label="SDE")
    if handles is None:
        handles = [h1, h2, h3]

    ax.text(LABEL_X[col], LABEL_Y[i], name, fontsize=18.5, ha="left", va="baseline")

    ax.set_xlim(30, 85)
    ax.set_ylim(-10, 60)
    ax.set_xticks([40, 60, 80])
    ax.set_xticks([50, 70], minor=True)
    ax.set_yticks([0, 20, 40, 60])
    ax.set_yticks([10, 30, 50], minor=True)
    ax.tick_params(which="both", direction="in", top=True, right=True, width=2.4,
                   labelsize=TICK_FS, labelbottom=(row == 2), labelleft=(col == 0),
                   labelright=(col == 2), labeltop=False)
    ax.tick_params(which="major", length=13)
    ax.tick_params(which="minor", length=7)
    ax.tick_params(axis="x", which="major", pad=9)
    ax.tick_params(axis="y", which="major", pad=6)
    for sp in ax.spines.values():
        sp.set_linewidth(2.4)

fig.text(0.031, 0.493, "spike angle (deg)", rotation=90, ha="center", va="center",
         fontsize=29)
fig.text(0.536, 0.027, "base angle (deg)", ha="center", va="center", fontsize=29)

leg = fig.legend(handles=handles, loc="upper center", bbox_to_anchor=(0.5565, 0.989),
                 borderaxespad=0, fontsize=18, frameon=True, fancybox=False,
                 edgecolor="black", framealpha=1, markerscale=0.8, handlelength=1.6,
                 handletextpad=0.8, labelspacing=0.32, borderpad=0.45)
leg.get_frame().set_linewidth(2.0)

fig.savefig("out.png", dpi=100)
